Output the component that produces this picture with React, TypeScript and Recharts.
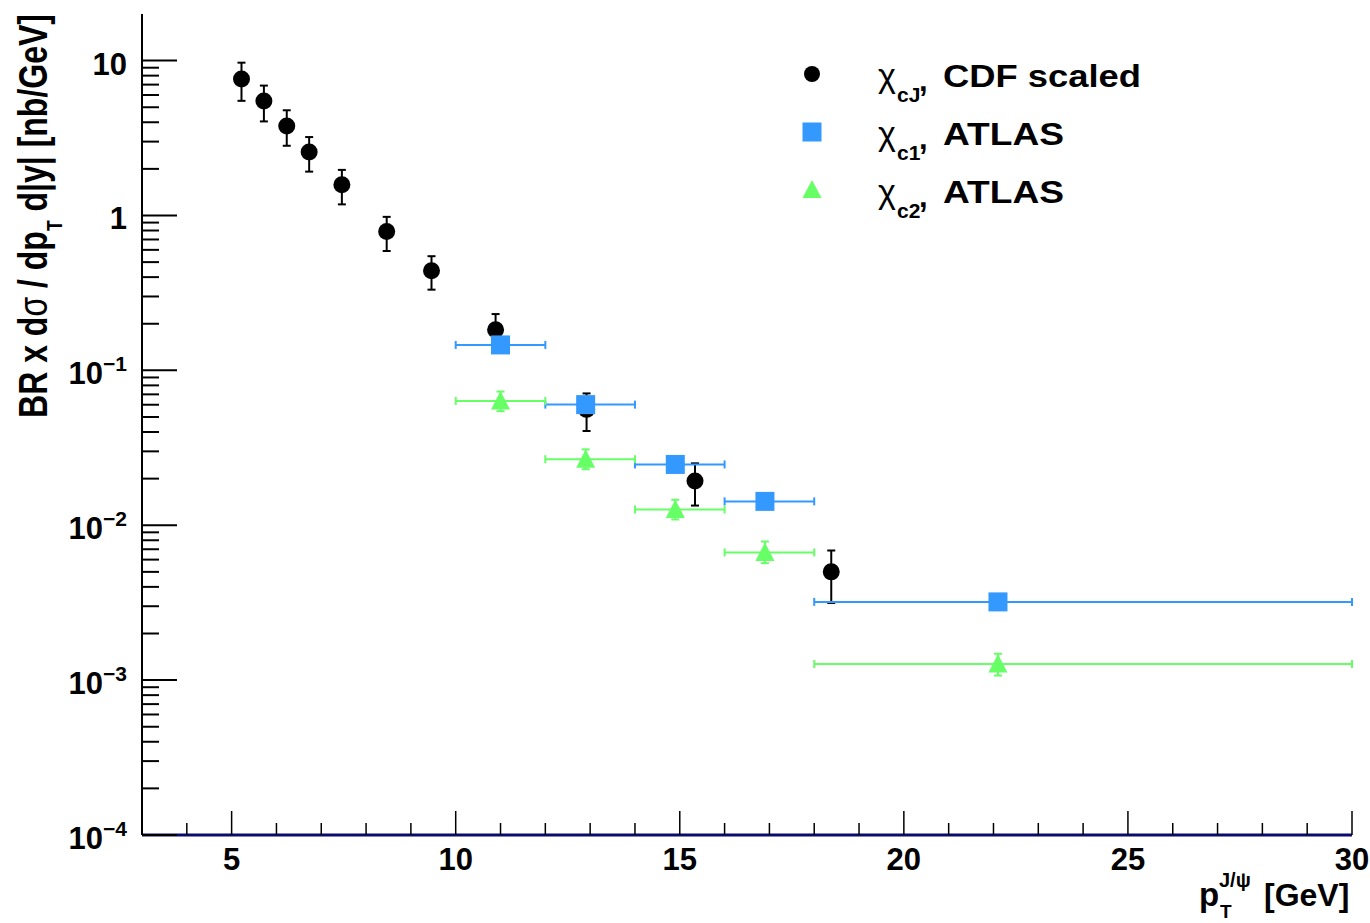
import React from 'react';
import { ComposedChart, Scatter, XAxis, YAxis, ErrorBar, Legend } from 'recharts';

// CDF scaled chi_cJ points: pT, value, lower / upper end of the error bar
const cdfPt = [5.22, 5.72, 6.23, 6.73, 7.46, 8.46, 9.46, 10.89, 12.92, 15.34, 18.38];
const cdfVal = [7.6, 5.48, 3.78, 2.57, 1.58, 0.787, 0.44, 0.183, 0.056, 0.0193, 0.005];
const cdfLow = [5.5, 4.05, 2.82, 1.92, 1.18, 0.59, 0.332, 0.145, 0.0406, 0.0134, 0.00315];
const cdfHigh = [9.7, 6.9, 4.78, 3.21, 1.97, 0.98, 0.546, 0.231, 0.071, 0.0251, 0.00687];

// ATLAS bins
const atlasPt = [11.0, 12.9, 14.9, 16.9, 22.1];
const atlasBinLow = [10, 12, 14, 16, 18];
const atlasBinHigh = [12, 14, 16, 18, 30];

const chic1Val = [0.146, 0.0601, 0.0247, 0.01426, 0.0032];
const chic1Low = [0.133, 0.055, 0.0225, 0.013, 0.0029];
const chic1High = [0.16, 0.066, 0.0271, 0.0157, 0.0035];

const chic2Val = [0.0635, 0.0267, 0.01265, 0.00667, 0.00127];
const chic2Low = [0.0545, 0.023, 0.0109, 0.00569, 0.00107];
const chic2High = [0.073, 0.0309, 0.0146, 0.00785, 0.00148];

const xTicks = [4, 5, 6, 7, 8, 9, 10, 11, 12, 13, 14, 15, 16, 17, 18, 19, 20, 21, 22, 23, 24, 25, 26, 27, 28, 29, 30];
const yDecades = [-4, -3, -2, -1, 0, 1];
const yMinorSteps = [2, 3, 4, 5, 6, 7, 8, 9];

const legendSub = ['cJ', 'c1', 'c2'];
const legendRest = ['CDF scaled', 'ATLAS', 'ATLAS'];

const FONT = '"Liberation Sans", Arial, Helvetica, sans-serif';
const BLUE = '#3399ff';
const GREEN = '#66ff66';
const PLOT_LEFT = 142;
const PLOT_BOTTOM = 835;

const yTicks: number[] = [];
yDecades.forEach((e) => {
  yTicks.push(Math.pow(10, e));
  if (e < 1) yMinorSteps.forEach((k) => yTicks.push(k * Math.pow(10, e)));
});

const cdfData = cdfPt.map((x, i) => ({
  x,
  y: cdfVal[i],
  yErr: [cdfVal[i] - cdfLow[i], cdfHigh[i] - cdfVal[i]],
}));

const makeAtlas = (val: number[], lo: number[], hi: number[]) =>
  atlasPt.map((x, i) => ({
    x,
    y: val[i],
    xErr: [x - atlasBinLow[i], atlasBinHigh[i] - x],
    yErr: [val[i] - lo[i], hi[i] - val[i]],
  }));

const chic1Data = makeAtlas(chic1Val, chic1Low, chic1High);
const chic2Data = makeAtlas(chic2Val, chic2Low, chic2High);

const Dot = (p: any) => <circle cx={p.cx} cy={p.cy} r={8.5} fill="#000" />;
const Sq = (p: any) => <rect x={p.cx - 9.5} y={p.cy - 9.5} width={19} height={19} fill={BLUE} />;
const Tri = (p: any) => (
  <polygon
    points={`${p.cx},${p.cy - 10} ${p.cx - 9.5},${p.cy + 8.5} ${p.cx + 9.5},${p.cy + 8.5}`}
    fill={GREEN}
  />
);

function XTick(props: any) {
  const { x, payload } = props;
  const v = payload.value;
  const major = v % 5 === 0;
  return (
    <g>
      <line x1={x} x2={x} y1={PLOT_BOTTOM} y2={PLOT_BOTTOM - (major ? 24 : 12)} stroke="#000" strokeWidth={1.5} />
      {major && (
        <text x={x} y={PLOT_BOTTOM + 35} textAnchor="middle" fontFamily={FONT} fontWeight="bold" fontSize={31} fill="#000">
          {v}
        </text>
      )}
    </g>
  );
}

function YTick(props: any) {
  const { y, payload } = props;
  const lg = Math.log10(payload.value);
  const e = Math.round(lg);
  const major = Math.abs(lg - e) < 1e-6;
  return (
    <g>
      <line x1={PLOT_LEFT} x2={PLOT_LEFT + (major ? 35 : 17)} y1={y} y2={y} stroke="#000" strokeWidth={2} />
      {major && (
        <text x={127} y={y + 14} textAnchor="end" fontFamily={FONT} fontWeight="bold" fontSize={31} fill="#000">
          {e === 0 ? '1' : '10'}
          {e < 0 && (
            <tspan fontSize={21} dy={-13}>
              {'\u2212' + -e}
            </tspan>
          )}
        </text>
      )}
    </g>
  );
}

const YTitle = () => (
  <text
    transform="translate(47,14) rotate(-90) scale(0.8,1)"
    textAnchor="end"
    fontFamily={FONT}
    fontWeight="bold"
    fontSize={40}
    fill="#000"
  >
    BR x d<tspan fontWeight="normal">σ</tspan> / dp
    <tspan fontSize={22} dy={15}>T</tspan>
    <tspan dy={-15}> d|y| [nb/GeV]</tspan>
  </text>
);

const XTitle = () => (
  <text fontFamily={FONT} fontWeight="bold" fill="#000">
    <tspan x={1199} y={906} fontSize={33}>p</tspan>
    <tspan x={1219} y={887} fontSize={20}>J/ψ</tspan>
    <tspan x={1220} y={918} fontSize={19}>T</tspan>
    <tspan x={1264} y={906} fontSize={32}>[GeV]</tspan>
  </text>
);

function LegendBox(props: any) {
  const items = props.payload || [];
  const rowY = [34, 92, 150];
  return (
    <svg width={400} height={190} style={{ display: 'block' }}>
      {items.map((it: any, i: number) => {
        const cy = rowY[i];
        const base = cy + 13;
        return (
          <g key={i}>
            {i === 0 && <circle cx={22} cy={cy} r={8} fill="#000" />}
            {i === 1 && <rect x={12.5} y={cy - 9.5} width={19} height={19} fill={BLUE} />}
            {i === 2 && (
              <polygon points={`22,${cy - 10} 12.5,${cy + 8} 31.5,${cy + 8}`} fill={GREEN} />
            )}
            <text fontFamily={FONT} fill="#000">
              <tspan x={88} y={base} fontSize={34}>χ</tspan>
              <tspan x={107} y={base + 15} fontSize={21} fontWeight="bold">{legendSub[i]}</tspan>
              <tspan x={129} y={base + 4} fontSize={31} fontWeight="bold">,</tspan>
            </text>
            <text
              x={153}
              y={base}
              fontFamily={FONT}
              fontWeight="bold"
              fontSize={31}
              fill="#000"
              textLength={i === 0 ? 198 : 121}
              lengthAdjust="spacingAndGlyphs"
            >
              {legendRest[i]}
            </text>
          </g>
        );
      })}
    </svg>
  );
}

export default function App() {
  return (
    <div style={{ position: 'absolute', left: 0, top: 0, width: 1370, height: 923, background: '#fff' }}>
      <ComposedChart width={1370} height={923} margin={{ top: 14, right: 18, bottom: 0, left: 0 }}>
        <XAxis
          xAxisId="b"
          type="number"
          dataKey="x"
          domain={[3, 30]}
          allowDataOverflow
          ticks={xTicks}
          interval={0}
          tick={<XTick />}
          tickLine={false}
          axisLine={{ stroke: '#0b0b6e', strokeWidth: 3 }}
          height={88}
          label={XTitle}
        />
        <XAxis
          xAxisId="t"
          orientation="top"
          type="number"
          domain={[3, 30]}
          tick={false}
          tickLine={false}
          axisLine={{ stroke: '#000', strokeWidth: 2 }}
          height={0}
        />
        <YAxis
          yAxisId="l"
          type="number"
          dataKey="y"
          scale="log"
          domain={[1e-4, 20]}
          allowDataOverflow
          ticks={yTicks}
          interval={0}
          tick={<YTick />}
          tickLine={false}
          axisLine={{ stroke: '#000', strokeWidth: 2 }}
          width={142}
          label={YTitle}
        />
        <YAxis
          yAxisId="r"
          orientation="right"
          type="number"
          domain={[0, 1]}
          tick={false}
          tickLine={false}
          axisLine={{ stroke: '#333', strokeWidth: 2 }}
          width={0}
        />
        <Legend
          layout="vertical"
          align="center"
          verticalAlign="middle"
          content={<LegendBox />}
          wrapperStyle={{ left: 790, top: 40, width: 400, height: 190 }}
        />
        <Scatter
          name="χcJ, CDF scaled"
          data={cdfData}
          xAxisId="b"
          yAxisId="l"
          fill="#000"
          shape={Dot}
          isAnimationActive={false}
        >
          <ErrorBar dataKey="yErr" direction="y" width={4} stroke="#000" strokeWidth={2} />
        </Scatter>
        <Scatter
          name="χc1, ATLAS"
          data={chic1Data}
          xAxisId="b"
          yAxisId="l"
          fill={BLUE}
          shape={Sq}
          isAnimationActive={false}
        >
          <ErrorBar dataKey="xErr" direction="x" width={4} stroke={BLUE} strokeWidth={2} />
          <ErrorBar dataKey="yErr" direction="y" width={4} stroke={BLUE} strokeWidth={2} />
        </Scatter>
        <Scatter
          name="χc2, ATLAS"
          data={chic2Data}
          xAxisId="b"
          yAxisId="l"
          fill={GREEN}
          shape={Tri}
          isAnimationActive={false}
        >
          <ErrorBar dataKey="xErr" direction="x" width={4} stroke={GREEN} strokeWidth={2} />
          <ErrorBar dataKey="yErr" direction="y" width={4} stroke={GREEN} strokeWidth={2} />
        </Scatter>
      </ComposedChart>
    </div>
  );
}
